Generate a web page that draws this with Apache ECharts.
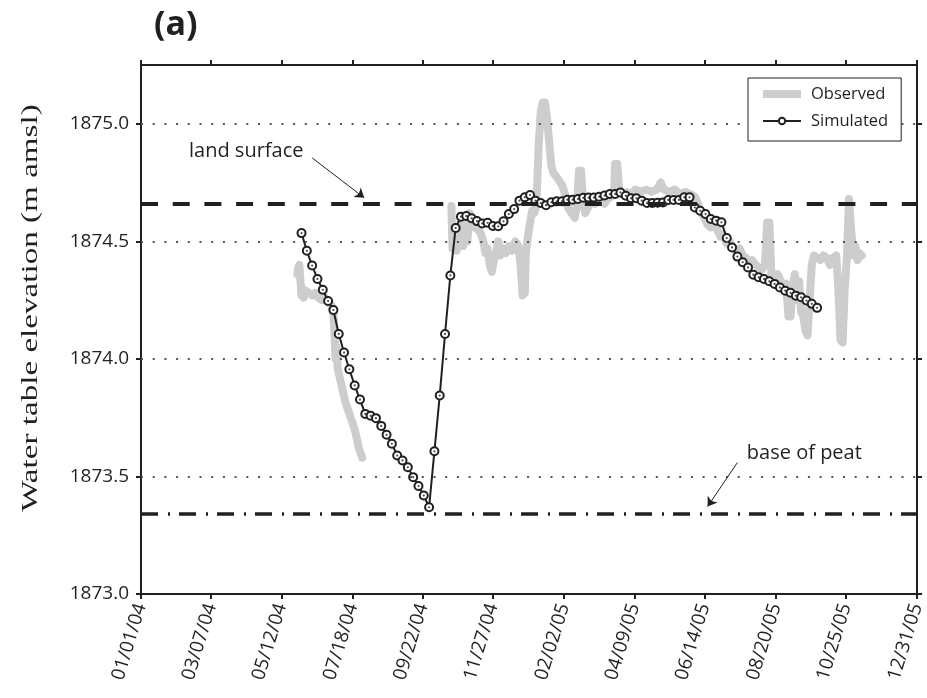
<!DOCTYPE html>
<html>
<head>
<meta charset="utf-8">
<script src="https://cdn.jsdelivr.net/npm/echarts@6/dist/echarts.min.js"></script>
<style>
  html, body { margin: 0; padding: 0; background: #ffffff; }
  #chart { width: 927px; height: 698px; }
</style>
</head>
<body>
<div id="chart"></div>
<script>
// Axis tick labels (dates, MM/DD/YY) and elevation ticks
const xTickLabels = ['01/01/04', '03/07/04', '05/12/04', '07/18/04', '09/22/04', '11/27/04',
                     '02/02/05', '04/09/05', '06/14/05', '08/20/05', '10/25/05', '12/31/05'];
const yTickValues = [1873.0, 1873.5, 1874.0, 1874.5, 1875.0];
const yGridValues = [1873.5, 1874.0, 1874.5, 1875.0];

// Reference elevations (m amsl)
const landSurface = 1874.66;
const baseOfPeat = 1873.34;

// Model output, one value every 5 days starting on the first date
const simulatedStart = '2004-05-31';
const simulatedStepDays = 5;
const simulatedLevels = [
  1874.535, 1874.460, 1874.397, 1874.340, 1874.294, 1874.246, 1874.208, 1874.106, 1874.027, 1873.956,
  1873.887, 1873.827, 1873.766, 1873.758, 1873.748, 1873.715, 1873.677, 1873.639, 1873.589, 1873.568,
  1873.539, 1873.497, 1873.459, 1873.419, 1873.369, 1873.607, 1873.844, 1874.106, 1874.355, 1874.557,
  1874.605, 1874.608, 1874.598, 1874.586, 1874.576, 1874.579, 1874.565, 1874.564, 1874.585, 1874.616,
  1874.637, 1874.673, 1874.687, 1874.697, 1874.673, 1874.663, 1874.654, 1874.666, 1874.670, 1874.670,
  1874.677, 1874.677, 1874.680, 1874.685, 1874.686, 1874.686, 1874.690, 1874.695, 1874.701, 1874.701,
  1874.708, 1874.694, 1874.683, 1874.683, 1874.673, 1874.663, 1874.663, 1874.664, 1874.665, 1874.676,
  1874.676, 1874.676, 1874.687, 1874.687, 1874.644, 1874.630, 1874.616, 1874.595, 1874.588, 1874.581,
  1874.514, 1874.474, 1874.435, 1874.411, 1874.389, 1874.358, 1874.347, 1874.340, 1874.330, 1874.319,
  1874.304, 1874.290, 1874.281, 1874.269, 1874.262, 1874.248, 1874.234, 1874.217
];

// Logger record: days since 01/01/04 and water table elevation (null = no record)
const observedDays = [
  147, 148, 149, 150, 151, 152, 153, 155, 158, 161, 164, 167, 170, 173, 176, 179, 181, 182, 183, 184,
  185, 187, 189, 192, 195, 198, 201, 203, 205, 208,
  250,
  292, 293, 295, 297, 299, 301, 303, 305, 307, 309, 311, 314, 317, 320, 322, 324, 326, 328, 330, 332,
  334, 336, 338, 340, 343, 346, 349, 352, 355, 357, 359, 361, 362, 364, 366, 368, 370, 372, 374, 376,
  378, 380, 382, 384, 386, 388, 390, 393, 396, 399, 402, 405, 408, 410, 412, 414, 416, 418, 421, 424,
  427, 430, 433, 436, 439, 442, 445, 446, 448, 450, 453, 457, 461, 465, 470, 475, 480, 485, 489, 492,
  497, 502, 507, 512, 517, 521, 524, 527, 530, 533, 536, 539, 542, 545, 548, 551, 554, 557, 560, 563,
  566, 569, 572, 575, 578, 581, 584, 587, 589, 591, 593, 596, 599, 602, 605, 607, 609, 611, 613, 615,
  617, 619, 621, 623, 625, 627, 629, 631, 633, 636, 639, 642, 645, 648, 651, 654, 656, 658, 660, 662,
  664, 666, 668, 670, 672, 674, 676, 678
];
const observedLevels = [
  1874.36, 1874.39, 1874.40, 1874.33, 1874.27, 1874.30, 1874.26, 1874.29, 1874.28, 1874.27,
  1874.28, 1874.26, 1874.25, 1874.26, 1874.24, 1874.23, 1874.20, 1874.10, 1874.00, 1874.05,
  1873.96, 1873.92, 1873.88, 1873.82, 1873.78, 1873.74, 1873.70, 1873.66, 1873.62, 1873.58,
  null,
  1874.65, 1874.47, 1874.55, 1874.46, 1874.52, 1874.60, 1874.48, 1874.58, 1874.50, 1874.62,
  1874.58, 1874.56, 1874.55, 1874.53, 1874.50, 1874.45, 1874.47, 1874.40, 1874.37, 1874.42,
  1874.45, 1874.50, 1874.44, 1874.47, 1874.45, 1874.48, 1874.46, 1874.50, 1874.48, 1874.40,
  1874.27, 1874.28, 1874.45, 1874.52, 1874.58, 1874.63, 1874.62, 1874.66, 1874.90, 1875.05,
  1875.09, 1875.09, 1875.02, 1874.92, 1874.82, 1874.79, 1874.78, 1874.76, 1874.74, 1874.70,
  1874.64, 1874.62, 1874.60, 1874.65, 1874.80, 1874.80, 1874.66, 1874.62, 1874.65, 1874.67,
  1874.66, 1874.68, 1874.67, 1874.66, 1874.68, 1874.69, 1874.70, 1874.83, 1874.83, 1874.71,
  1874.70, 1874.71, 1874.70, 1874.72, 1874.71, 1874.72, 1874.71, 1874.72, 1874.75, 1874.72,
  1874.71, 1874.72, 1874.70, 1874.71, 1874.70, 1874.69, 1874.66, 1874.62, 1874.60, 1874.57,
  1874.56, 1874.58, 1874.55, 1874.52, 1874.53, 1874.49, 1874.50, 1874.47, 1874.46, 1874.47,
  1874.44, 1874.43, 1874.41, 1874.42, 1874.40, 1874.39, 1874.38, 1874.40, 1874.58, 1874.58,
  1874.36, 1874.34, 1874.36, 1874.33, 1874.31, 1874.32, 1874.18, 1874.18, 1874.30, 1874.36,
  1874.25, 1874.33, 1874.20, 1874.18, 1874.12, 1874.10, 1874.25, 1874.40, 1874.44, 1874.43,
  1874.42, 1874.44, 1874.43, 1874.40, 1874.43, 1874.44, 1874.30, 1874.08, 1874.07, 1874.30,
  1874.43, 1874.68, 1874.55, 1874.44, 1874.48, 1874.42, 1874.45, 1874.44
];

// ---- helpers -------------------------------------------------------------
const DAY_MS = 86400000;
const ORIGIN = Date.UTC(2004, 0, 1);
function dayFromLabel(lbl) {            // 'MM/DD/YY' -> days since 01/01/04
  const [m, d, y] = lbl.split('/').map(Number);
  return Math.round((Date.UTC(2000 + y, m - 1, d) - ORIGIN) / DAY_MS);
}
function dayFromIso(iso) {
  const [y, m, d] = iso.split('-').map(Number);
  return Math.round((Date.UTC(y, m - 1, d) - ORIGIN) / DAY_MS);
}
const xTickDays = xTickLabels.map(dayFromLabel);
const xMax = xTickDays[xTickDays.length - 1];
function labelForDay(v) {
  let best = 0;
  xTickDays.forEach((d, i) => { if (Math.abs(d - v) < Math.abs(xTickDays[best] - v)) best = i; });
  return xTickLabels[best];
}

const simStartDay = dayFromIso(simulatedStart);
const simulatedData = simulatedLevels.map((v, i) => [simStartDay + i * simulatedStepDays, v]);
const observedData = observedDays.map((d, i) => [d, observedLevels[i] === null ? '-' : observedLevels[i]]);

const FONT = '"Open Sans", "Noto Sans", sans-serif';
const INK = '#231f20';
const GREY = '#cdcdcd';

const chart = echarts.init(document.getElementById('chart'), null, { renderer: 'canvas' });

const xCommon = {
  type: 'value', min: 0, max: xMax,
  splitLine: { show: false },
  axisLine: { show: true, onZero: false, lineStyle: { color: INK, width: 2 } },
  axisTick: { show: true, inside: false, length: 5, customValues: xTickDays, lineStyle: { color: INK, width: 2 } }
};
const yCommon = {
  type: 'value', min: 1873.0, max: 1875.25,
  splitLine: { show: false },
  axisLine: { show: true, onZero: false, lineStyle: { color: INK, width: 2 } },
  axisTick: { show: true, inside: false, length: 5, customValues: yTickValues, lineStyle: { color: INK, width: 2 } }
};

chart.setOption({
  animation: false,
  backgroundColor: '#ffffff',
  title: {
    text: '(a)', left: 149, top: 3,
    textStyle: { fontFamily: FONT, fontWeight: 'bold', fontSize: 34, color: INK }
  },
  grid: { left: 141, right: 9, top: 65, bottom: 104, containLabel: false },
  xAxis: [
    Object.assign({}, xCommon, {
      position: 'bottom',
      axisLabel: {
        show: true, customValues: xTickDays, rotate: 73, margin: 10,
        fontFamily: FONT, fontSize: 19, color: INK,
        formatter: v => labelForDay(v)
      }
    }),
    Object.assign({}, xCommon, { position: 'top', axisLabel: { show: false } })
  ],
  yAxis: [
    Object.assign({}, yCommon, {
      position: 'left',
      axisLabel: {
        show: true, customValues: yTickValues, margin: 12,
        fontFamily: FONT, fontSize: 19, color: INK,
        formatter: v => v.toFixed(1)
      }
    }),
    Object.assign({}, yCommon, { position: 'right', axisLabel: { show: false } })
  ],
  legend: {
    orient: 'vertical', left: 748, top: 78, align: 'left', z: 20,
    padding: [7, 13, 11, 14],
    itemWidth: 38, itemHeight: 8, itemGap: 9,
    backgroundColor: '#ffffff', borderColor: INK, borderWidth: 1,
    textStyle: { fontFamily: FONT, fontSize: 16.5, lineHeight: 18, color: INK, padding: [0, 0, 0, 5] },
    data: [
      { name: 'Observed', icon: 'rect', itemStyle: { color: GREY } },
      { name: 'Simulated', lineStyle: { width: 2, color: INK } }
    ]
  },
  graphic: [{
    type: 'text', x: 31, y: 308, rotation: Math.PI / 2, scaleX: 1.38, scaleY: 1,
    style: {
      text: 'Water table elevation (m amsl)', align: 'center', verticalAlign: 'middle',
      fontFamily: '"Liberation Serif", "DejaVu Serif", serif', fontSize: 24, fill: INK
    }
  }],
  series: [
    {
      // reference lines, grid dots and annotations
      name: 'reference', type: 'line', data: [], z: 1, silent: true,
      markLine: {
        silent: true, symbol: 'none', animation: false,
        label: { show: false },
        data: [
          ...yGridValues.map(v => ({ yAxis: v, lineStyle: { type: [2, 9.7], width: 2, color: '#555' } })),
          { yAxis: landSurface, lineStyle: { type: [17, 14.7], width: 4, color: INK } },
          { yAxis: baseOfPeat, lineStyle: { type: [17, 10, 2, 9], width: 3.5, color: INK } },
          [
            { coord: [161, 1874.855], symbol: 'none' },
            { coord: [210, 1874.685], symbol: 'arrow', symbolSize: 9, lineStyle: { type: 'solid', width: 1, color: INK } }
          ],
          [
            { coord: [561, 1873.559], symbol: 'none' },
            { coord: [533, 1873.372], symbol: 'arrow', symbolSize: 9, lineStyle: { type: 'solid', width: 1, color: INK } }
          ]
        ]
      },
      markPoint: {
        silent: true, symbol: 'rect', symbolSize: 0,
        label: { show: true, position: 'inside', fontFamily: FONT, fontSize: 20, color: INK },
        data: [
          { coord: [99, 1874.885], label: { formatter: 'land surface' } },
          { coord: [624, 1873.598], label: { formatter: 'base of peat' } }
        ]
      }
    },
    {
      name: 'Observed', type: 'line', z: 2, data: observedData,
      showSymbol: false, symbol: 'none', connectNulls: false,
      lineStyle: { color: GREY, width: 8, join: 'round', cap: 'round' },
      itemStyle: { color: GREY }
    },
    {
      name: 'Simulated', type: 'line', z: 3, data: simulatedData,
      symbol: 'emptyCircle', symbolSize: 8, showAllSymbol: true,
      lineStyle: { color: INK, width: 2 },
      itemStyle: { color: INK, borderColor: INK, borderWidth: 2.5 }
    },
    {
      // centre dot of each simulated marker
      name: 'Simulated centres', type: 'scatter', z: 4, data: simulatedData,
      symbol: 'circle', symbolSize: 2.2, silent: true,
      itemStyle: { color: INK }
    }
  ]
});
</script>
</body>
</html>
